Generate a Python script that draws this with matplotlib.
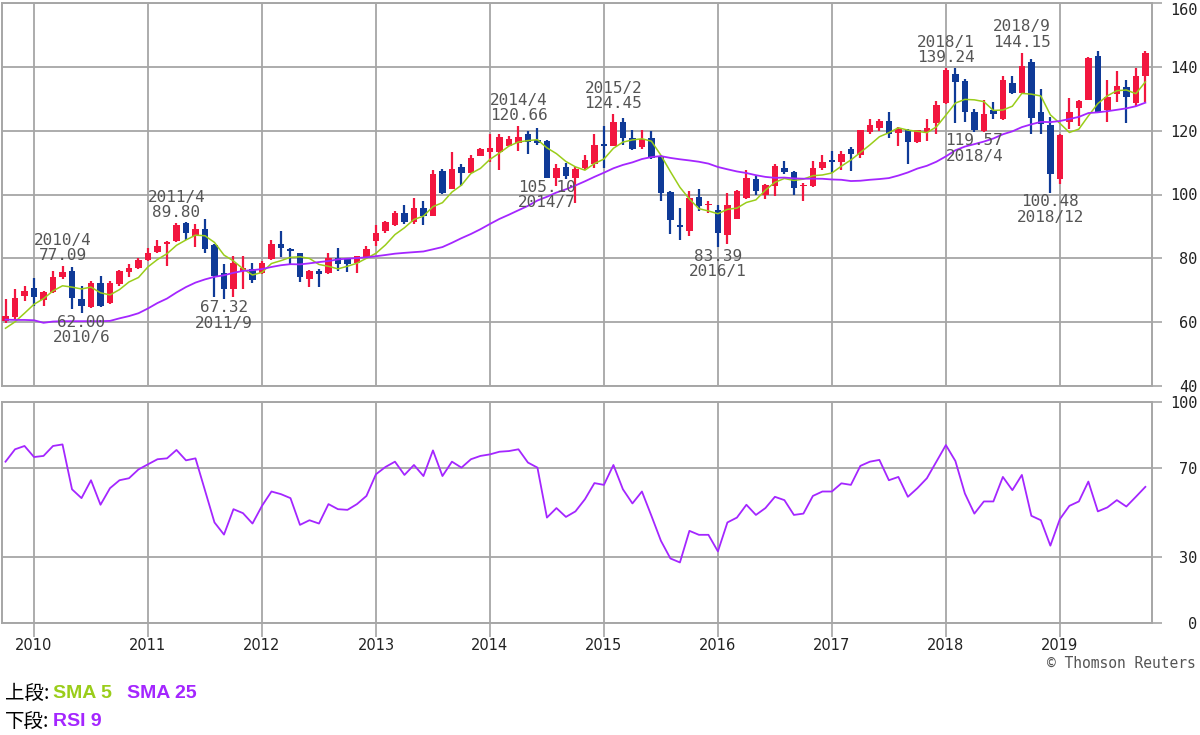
import numpy as np
import pandas as pd
import matplotlib
matplotlib.use('Agg')
import matplotlib.pyplot as plt

# monthly candles 2009/10 .. 2019/10
months = pd.period_range('2009-10', '2019-10', freq='M')

opens = [60.4, 61.5, 68.2, 70.8, 67.0, 69.3, 74.0, 76.0, 67.2, 64.6,
         72.4, 66.1, 72.0, 75.7, 77.1, 79.5, 82.0, 84.4, 85.4, 91.0,
         87.0, 89.3, 84.1, 75.3, 70.3, 76.0, 76.6, 75.5, 79.7, 84.4,
         82.8, 81.6, 73.4, 76.0, 75.3, 80.2, 79.7, 78.6, 80.5, 85.4,
         88.5, 90.6, 94.1, 91.4, 95.8, 93.4, 107.3, 101.8, 108.6, 106.8,
         112.0, 113.2, 113.2, 115.3, 116.0, 118.8, 117.2, 116.7, 105.2, 108.6,
         105.2, 108.3, 109.4, 115.6, 115.3, 122.6, 117.7, 115.0, 117.7, 112.2,
         100.7, 90.3, 88.5, 99.3, 96.6, 95.1, 87.2, 92.4, 99.0, 104.7,
         100.0, 102.6, 108.3, 107.0, 102.6, 102.6, 108.3, 110.9, 110.1, 114.1,
         112.5, 119.5, 120.8, 122.9, 119.3, 120.3, 116.4, 119.5, 122.4, 128.6,
         137.7, 135.6, 125.9, 119.9, 126.6, 123.8, 135.0, 131.8, 141.6, 125.9,
         121.7, 105.0, 122.7, 127.2, 129.7, 143.4, 126.6, 131.6, 133.7, 128.7,
         137.1]
highs = [67.2, 70.3, 71.4, 73.7, 69.8, 75.9, 77.6, 77.3, 71.4, 72.9,
         74.5, 72.9, 76.5, 78.1, 80.2, 83.3, 85.9, 85.3, 91.0, 91.5,
         90.8, 92.2, 84.4, 78.1, 80.7, 80.7, 78.6, 79.2, 85.7, 88.5,
         83.3, 81.8, 76.4, 76.8, 81.8, 83.1, 80.2, 80.7, 83.9, 90.6,
         91.7, 94.8, 96.6, 99.0, 97.9, 107.6, 108.0, 113.2, 109.4, 112.5,
         114.6, 118.8, 118.8, 118.2, 121.4, 119.8, 120.8, 117.2, 109.4, 109.9,
         108.6, 112.5, 118.8, 121.4, 125.2, 123.9, 120.3, 120.3, 119.8, 112.5,
         101.0, 95.8, 101.0, 101.6, 97.9, 96.6, 100.5, 101.3, 107.8, 105.7,
         103.3, 109.4, 110.4, 107.3, 103.6, 110.4, 112.5, 113.5, 113.5, 114.9,
         120.3, 123.6, 123.6, 125.7, 121.1, 120.5, 120.3, 123.6, 129.2, 139.6,
         139.5, 136.3, 126.9, 129.5, 129.0, 137.1, 137.1, 144.4, 142.6, 132.9,
         124.3, 119.1, 130.1, 129.5, 143.1, 145.0, 136.0, 138.7, 136.0, 139.5,
         145.0]
lows = [59.8, 60.9, 66.7, 65.1, 65.2, 69.0, 73.4, 64.0, 62.8, 64.3,
        64.6, 65.6, 71.4, 74.0, 76.8, 79.2, 81.8, 77.6, 85.1, 85.7,
        83.5, 81.8, 67.8, 67.3, 68.0, 70.5, 72.4, 75.0, 79.4, 80.5,
        78.1, 72.6, 71.1, 71.1, 75.0, 76.0, 75.7, 75.5, 79.7, 83.9,
        88.0, 90.1, 90.9, 90.9, 90.6, 93.2, 100.3, 101.6, 102.8, 106.6,
        112.0, 110.1, 107.6, 115.1, 113.5, 112.8, 115.6, 105.1, 102.8, 104.7,
        97.4, 107.8, 108.3, 108.3, 115.1, 115.6, 113.9, 114.3, 111.0, 97.9,
        87.5, 85.9, 87.0, 94.8, 94.3, 83.4, 84.4, 92.2, 98.6, 100.0,
        98.5, 99.5, 106.3, 100.0, 97.9, 102.4, 107.8, 106.8, 107.8, 107.3,
        111.5, 118.8, 119.8, 117.7, 115.1, 109.4, 116.1, 116.7, 118.8, 128.4,
        122.5, 122.7, 119.6, 119.7, 123.5, 123.2, 131.4, 131.4, 119.1, 119.1,
        100.5, 103.4, 120.6, 121.4, 129.7, 125.5, 122.7, 129.0, 122.4, 127.6,
        129.0]
closes = [61.8, 67.7, 69.8, 68.0, 69.5, 74.0, 75.7, 67.7, 65.1, 72.4,
          65.1, 72.4, 76.0, 77.1, 79.4, 81.8, 83.9, 85.0, 90.3, 87.8,
          89.3, 83.0, 74.5, 70.5, 78.6, 77.1, 73.2, 78.6, 84.4, 83.1,
          82.3, 74.0, 76.0, 75.0, 80.2, 78.3, 78.1, 80.7, 82.8, 88.0,
          91.4, 94.3, 91.4, 95.8, 93.2, 106.3, 100.5, 108.0, 106.6, 111.5,
          114.3, 114.6, 118.0, 117.4, 118.0, 116.4, 116.1, 105.2, 108.3, 105.7,
          108.0, 110.9, 115.6, 115.3, 122.6, 117.7, 114.3, 117.4, 111.5, 100.5,
          92.1, 89.8, 99.0, 96.4, 96.9, 87.8, 96.6, 101.0, 105.2, 101.0,
          103.0, 108.9, 107.0, 102.1, 103.1, 108.3, 110.1, 110.1, 112.8, 112.8,
          120.1, 121.9, 122.9, 119.1, 120.5, 116.4, 120.1, 120.8, 128.1, 138.9,
          135.3, 125.9, 120.1, 125.3, 125.1, 136.0, 131.8, 140.2, 124.1, 122.2,
          106.5, 118.5, 125.9, 129.3, 142.9, 125.9, 130.6, 133.9, 130.4, 137.1,
          144.4]

# moving-average values where the earlier history is off screen
sma5_head = [58.1, 60.1, 62.8, 65.6]
sma25_head = [60.8, 60.7, 60.7, 60.6, 59.8, 60.2, 60.3, 60.3, 60.3, 60.3,
              60.3, 60.4, 61.2, 61.9, 62.8, 64.3, 66.0, 67.4, 69.3, 71.0,
              72.4, 73.4, 74.2, 74.7]

rsi9 = [73.0, 78.6, 80.1, 75.1, 75.6, 80.1, 80.8, 60.5, 56.5, 64.6,
        53.5, 61.0, 64.6, 65.5, 69.5, 71.8, 74.1, 74.5, 78.3, 73.6,
        74.5, 60.0, 45.5, 40.0, 51.5, 49.7, 45.0, 53.0, 59.5, 58.3,
        56.5, 44.4, 46.5, 45.0, 53.8, 51.5, 51.2, 53.8, 57.5, 67.3,
        70.6, 73.0, 67.0, 71.5, 66.5, 78.1, 66.5, 73.0, 70.3, 74.1,
        75.6, 76.3, 77.5, 77.8, 78.6, 72.6, 70.3, 47.7, 52.0, 48.0,
        50.5, 56.0, 63.3, 62.5, 71.5, 60.5, 54.1, 59.5, 48.5, 37.2,
        29.2, 27.4, 41.7, 39.9, 39.9, 32.4, 45.5, 47.7, 53.5, 48.9,
        52.0, 57.1, 55.6, 48.9, 49.5, 57.5, 59.5, 59.5, 63.2, 62.5,
        71.1, 73.0, 73.8, 64.6, 66.1, 57.1, 61.0, 65.5, 73.0, 80.5,
        73.3, 58.6, 49.5, 55.0, 55.0, 66.1, 60.1, 67.0, 48.5, 46.5,
        35.0, 47.0, 53.0, 55.0, 64.0, 50.5, 52.3, 55.6, 52.7, 57.1,
        61.6]

price_ticks = [40, 60, 80, 100, 120, 140, 160]
rsi_ticks = [0, 30, 70, 100]

# (month index, date text, value text, 'high' or 'low')
marks = [(6, '2010/4', '77.09', 'high'), (8, '2010/6', '62.00', 'low'),
         (18, '2011/4', '89.80', 'high'), (23, '2011/9', '67.32', 'low'),
         (54, '2014/4', '120.66', 'high'), (57, '2014/7', '105.10', 'low'),
         (64, '2015/2', '124.45', 'high'), (75, '2016/1', '83.39', 'low'),
         (99, '2018/1', '139.24', 'high'), (102, '2018/4', '119.57', 'low'),
         (107, '2018/9', '144.15', 'high'), (110, '2018/12', '100.48', 'low')]

UP = '#f2163f'
DOWN = '#0f3a97'
GREEN = '#9acd1a'
PURPLE = '#a426ff'
GRID = '#a6a6a6'
MONO = 'DejaVu Sans Mono'

o = np.array(opens)
h = np.array(highs)
l = np.array(lows)
c = np.array(closes)
x = np.arange(len(months))

sma5 = pd.Series(c).rolling(5).mean()
sma5.iloc[:len(sma5_head)] = sma5_head
sma25 = pd.Series(c).rolling(25).mean()
sma25.iloc[:len(sma25_head)] = sma25_head

year_idx = [i for i, m in enumerate(months) if m.month == 1]
year_lab = [str(months[i].year) for i in year_idx]


def style_axes(ax, yticks):
    ax.set_xlim(-0.37, len(months) - 0.3)
    ax.set_xticks(year_idx)
    ax.set_yticks(yticks)
    ax.set_ylim(yticks[0], yticks[-1])
    ax.grid(True, color=GRID, lw=1.3)
    ax.set_axisbelow(True)
    for s in ax.spines.values():
        s.set_color(GRID)
        s.set_linewidth(1.4)
    ax.yaxis.tick_right()
    ax.tick_params(axis='y', length=7.5, width=1.2, color=GRID, pad=25,
                   labelsize=11, labelcolor='#222222')
    for t in ax.get_yticklabels():
        t.set_horizontalalignment('right')
        t.set_fontfamily(MONO)


fig = plt.figure(figsize=(12, 7.35), dpi=100)
ax1 = fig.add_axes([2 / 1200, 1 - 386 / 735, 1150 / 1200, 383 / 735])
ax2 = fig.add_axes([2 / 1200, 1 - 623 / 735, 1150 / 1200, 221 / 735])

# candles
up = c >= o
cols = np.where(up, UP, DOWN)
ax1.vlines(x, l, h, colors=cols, lw=1.6, zorder=3)
body = np.maximum(np.abs(c - o), 0.5)
ax1.bar(x, body, bottom=np.minimum(o, c), width=0.7, color=cols, lw=0, zorder=3)

ax1.plot(x, sma5, color=GREEN, lw=1.1, zorder=4)
ax1.plot(x, sma25, color=PURPLE, lw=1.3, zorder=4)

for i, date, val, side in marks:
    if side == 'high':
        ax1.annotate(date + '\n' + val, (i, h[i]), xytext=(0, 2), textcoords='offset points',
                     ha='center', va='bottom', fontsize=11.5, family=MONO, color='#555555',
                     linespacing=1.05, zorder=5)
    else:
        ax1.annotate(val + '\n' + date, (i, l[i]), xytext=(0, -1), textcoords='offset points',
                     ha='center', va='top', fontsize=11.5, family=MONO, color='#555555',
                     linespacing=1.05, zorder=5)

style_axes(ax1, price_ticks)
ax1.tick_params(axis='x', length=0, labelbottom=False)
# top label sits under its line so it stays inside the picture
ax1.get_yticklabels()[-1].set_verticalalignment('top')

ax2.plot(x, rsi9, color=PURPLE, lw=1.3)
style_axes(ax2, rsi_ticks)
ax2.set_xticklabels(year_lab)
ax2.tick_params(axis='x', length=10, width=1.2, color=GRID, pad=1,
                labelsize=10.5, labelcolor='#222222')

fig.text(1196 / 1200, 1 - 663 / 735, '\u00a9 Thomson Reuters', ha='right', va='center',
         fontsize=10.5, family=MONO, color='#555555')

cjk = ['Noto Sans CJK JP', 'DejaVu Sans']
fig.text(5 / 1200, 1 - 693 / 735, '上段:', ha='left', va='center', fontsize=14, family=cjk)
fig.text(53 / 1200, 1 - 693 / 735, 'SMA 5', ha='left', va='center', fontsize=14,
         family='Liberation Sans', weight='bold', color=GREEN)
fig.text(127 / 1200, 1 - 693 / 735, 'SMA 25', ha='left', va='center', fontsize=14,
         family='Liberation Sans', weight='bold', color=PURPLE)
fig.text(5 / 1200, 1 - 722 / 735, '下段:', ha='left', va='center', fontsize=14, family=cjk)
fig.text(53 / 1200, 1 - 722 / 735, 'RSI 9', ha='left', va='center', fontsize=14,
         family='Liberation Sans', weight='bold', color=PURPLE)

fig.savefig('out.png', dpi=100)
